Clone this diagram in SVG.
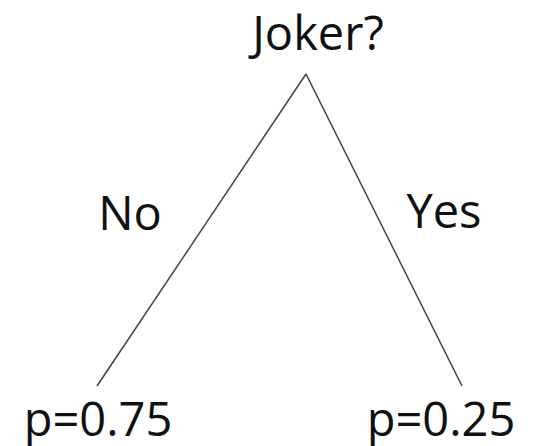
<svg xmlns="http://www.w3.org/2000/svg" width="551" height="446" viewBox="0 0 551 446">
<style>
text{font-family:"Open Sans","Noto Sans",sans-serif;font-size:47px;fill:#111}
.e{stroke:#444;stroke-width:1.5;fill:none}
</style>
<rect width="551" height="446" fill="#fff"/>
<g id="edges">
<line class="e" x1="306" y1="74" x2="97" y2="386"/>
<line class="e" x1="306" y1="74" x2="462" y2="386"/>
</g>
<g id="root"><text x="318" y="50" text-anchor="middle">Joker?</text></g>
<g id="labelNo"><text x="130" y="230" text-anchor="middle">No</text></g>
<g id="labelYes"><text x="444" y="228" text-anchor="middle">Yes</text></g>
<g id="leafNo"><text x="98" y="436" text-anchor="middle">p=0.75</text></g>
<g id="leafYes"><text x="441" y="436" text-anchor="middle">p=0.25</text></g>
</svg>
